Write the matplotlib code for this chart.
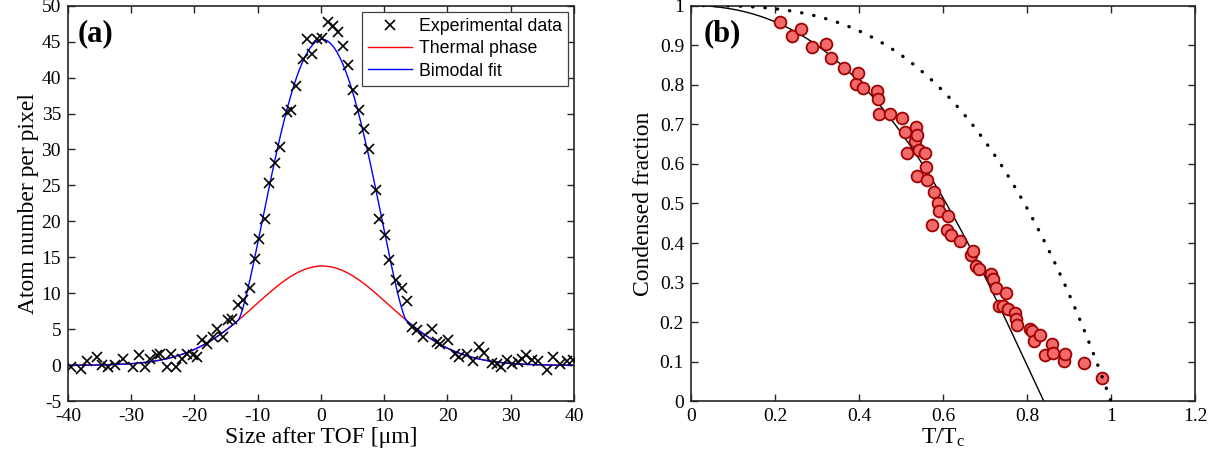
import numpy as np
import matplotlib
matplotlib.use("Agg")
import matplotlib.pyplot as plt

plt.rcParams['font.family'] = ['Liberation Serif', 'DejaVu Serif']
plt.rcParams['mathtext.fontset'] = 'custom'
plt.rcParams['mathtext.rm'] = 'Liberation Serif'
plt.rcParams['mathtext.it'] = 'Liberation Serif:italic'
plt.rcParams['axes.unicode_minus'] = False

# ---------------- Panel (a) data ----------------
size_um = [-39.58, -38.0, -37.05, -35.47, -34.68, -33.63, -32.57, -31.25, -29.67, -28.72,
           -27.83, -27.04, -25.98, -25.45, -24.40, -23.76, -22.92, -22.02, -21.23, -20.19,
           -19.66, -18.87, -18.08, -17.02, -16.49, -15.44, -14.65, -14.12, -13.07, -12.38,
           -11.23, -10.43, -9.75, -8.85, -8.17, -7.27, -6.48, -5.43, -4.79, -3.95,
           -2.90, -2.26, -1.37, -0.69, 0.11, 1.16, 1.95, 2.74, 3.43, 4.32,
           5.11, 6.06, 6.85, 7.59, 8.70, 9.22, 10.12, 10.80, 11.86, 12.76,
           13.55, 14.34, 15.23, 16.08, 17.50, 18.29, 18.81, 20.03, 21.19, 21.87,
           23.03, 24.08, 25.03, 25.77, 26.99, 27.78, 28.41, 29.36, 30.15, 31.20,
           31.73, 32.41, 33.31, 34.36, 35.78, 36.73, 37.79, 38.85, 39.89]
atoms = [-0.23, -0.46, 0.6, 1.16, 0.0, -0.23, 0.0, 0.93, -0.23, 1.39,
         -0.23, 0.93, 1.39, 1.62, -0.23, 1.62, -0.23, 0.93, 1.62, 1.39,
         1.16, 3.48, 3.01, 3.94, 5.10, 3.94, 6.26, 6.49, 8.34, 9.04,
         10.8, 14.8, 17.5, 20.4, 25.35, 28.1, 30.4, 35.2, 35.5, 38.8,
         42.6, 45.3, 43.3, 45.3, 45.5, 47.7, 47.1, 46.3, 44.4, 41.7,
         38.2, 35.5, 32.9, 30.1, 24.4, 20.3, 18.1, 14.6, 11.8, 10.7,
         9.0, 5.3, 4.9, 4.0, 5.0, 3.2, 2.9, 3.5, 1.6, 1.2,
         1.6, 0.6, 2.5, 1.7, 0.3, 0.2, -0.2, 0.7, 0.2, 0.5,
         0.9, 1.4, 0.7, 0.6, -0.6, 1.2, 0.2, 0.6, 0.8]

# fit parameters (thermal Gaussian + Thomas-Fermi condensate)
thermal_amp = 13.8
center = 0.2
thermal_sigma = 10.56
tf_amp = 31.5
tf_radius = 13.3

# ---------------- Panel (b) data ----------------
t_ratio = [0.212, 0.240, 0.261, 0.287, 0.321, 0.333, 0.364, 0.394, 0.398, 0.409,
           0.442, 0.446, 0.447, 0.474, 0.502, 0.510, 0.514, 0.534, 0.536, 0.539,
           0.539, 0.544, 0.557, 0.560, 0.563, 0.575, 0.579, 0.587, 0.591, 0.609,
           0.612, 0.619, 0.640, 0.667, 0.671, 0.679, 0.685, 0.714, 0.720, 0.726,
           0.733, 0.744, 0.750, 0.755, 0.772, 0.775, 0.777, 0.807, 0.812, 0.817,
           0.831, 0.842, 0.860, 0.863, 0.888, 0.890, 0.936, 0.979]
cond_frac = [0.958, 0.922, 0.941, 0.896, 0.902, 0.867, 0.841, 0.802, 0.830, 0.792,
             0.785, 0.763, 0.727, 0.727, 0.715, 0.680, 0.628, 0.658, 0.693, 0.672,
             0.569, 0.636, 0.628, 0.593, 0.559, 0.446, 0.529, 0.500, 0.480, 0.434,
             0.469, 0.420, 0.404, 0.369, 0.381, 0.342, 0.335, 0.321, 0.310, 0.286,
             0.241, 0.241, 0.274, 0.232, 0.224, 0.209, 0.192, 0.182, 0.178, 0.152,
             0.167, 0.116, 0.146, 0.123, 0.103, 0.119, 0.096, 0.059]
eta = 0.604  # interaction parameter

fig = plt.figure(figsize=(12.2, 4.65), dpi=100)
ax1 = fig.add_axes([0.0557, 0.137, 0.4148, 0.851])
ax2 = fig.add_axes([0.5664, 0.137, 0.4131, 0.851])

spine_col = '#262626'

# ---- Panel (a)
xs = np.linspace(-40, 40, 1000)
thermal = thermal_amp * np.exp(-(xs - center) ** 2 / (2 * thermal_sigma ** 2))
cond = tf_amp * np.clip(1 - ((xs - center) / tf_radius) ** 2, 0, None) ** 1.5
ax1.plot(size_um, atoms, 'x', color='black', ms=7, mew=1.2, label='Experimental data', zorder=3)
ax1.plot(xs, thermal, color='#ff0000', lw=1.0, label='Thermal phase')
ax1.plot(xs, thermal + cond, color='#0000ff', lw=1.0, label='Bimodal fit')
ax1.set_xlim(-40, 40)
ax1.set_ylim(-5, 50)
ax1.set_xticks(np.arange(-40, 41, 10))
ax1.set_yticks(np.arange(-5, 51, 5))
ax1.set_xlabel('Size after TOF [\u03bcm]', fontsize=17, labelpad=1)
ax1.set_ylabel('Atom number per pixel', fontsize=17, labelpad=2)
ax1.text(0.02, 0.965, '(a)', transform=ax1.transAxes, fontsize=22, fontweight='bold',
         va='top', ha='left')
leg = ax1.legend(loc='upper right', frameon=True, fancybox=False,
                 framealpha=1, edgecolor='#404040', borderaxespad=0.35,
                 handlelength=2.5, handletextpad=0.35, borderpad=0.35, labelspacing=0.3,
                 prop={'family': 'Liberation Sans', 'size': 12.8})
leg.get_frame().set_linewidth(0.9)

# ---- Panel (b)
tt = np.linspace(0, 1, 2000)
inter = 1 - tt ** 3 - eta * 1.368 * tt ** 2 * np.clip(1 - tt ** 3, 0, None) ** 0.4
mask = inter >= -0.01
ax2.plot(tt[mask], inter[mask], color='black', lw=1.0, zorder=2)
ax2.plot(t_ratio, cond_frac, 'o', ms=8.5, mfc='#f26a6a', mec='#a00000', mew=1.3, zorder=3)
tt2 = np.linspace(0, 1, 120)
ax2.plot(tt2, 1 - tt2 ** 3, linestyle=(0, (0.1, 3.6)), color='black', lw=2.4,
         dash_capstyle='round', zorder=4)
ax2.set_xlim(0, 1.2)
ax2.set_ylim(0, 1)
ax2.set_xticks(np.arange(0, 1.21, 0.2))
ax2.set_xticklabels(['0', '0.2', '0.4', '0.6', '0.8', '1', '1.2'])
ax2.set_yticks(np.arange(0, 1.01, 0.1))
ax2.set_yticklabels(['0', '0.1', '0.2', '0.3', '0.4', '0.5', '0.6', '0.7', '0.8', '0.9', '1'])
ax2.set_xlabel(r'T/T$_{\mathrm{c}}$', fontsize=17, labelpad=1)
ax2.set_ylabel('Condensed fraction', fontsize=17, labelpad=4)
ax2.text(0.025, 0.965, '(b)', transform=ax2.transAxes, fontsize=22, fontweight='bold',
         va='top', ha='left')

for ax in (ax1, ax2):
    ax.tick_params(direction='in', top=True, right=True, labelsize=14, length=5,
                   width=1, colors=spine_col, labelcolor='black', pad=5)
    for s in ax.spines.values():
        s.set_color(spine_col)
        s.set_linewidth(1.2)

fig.savefig('out.png', dpi=100)
